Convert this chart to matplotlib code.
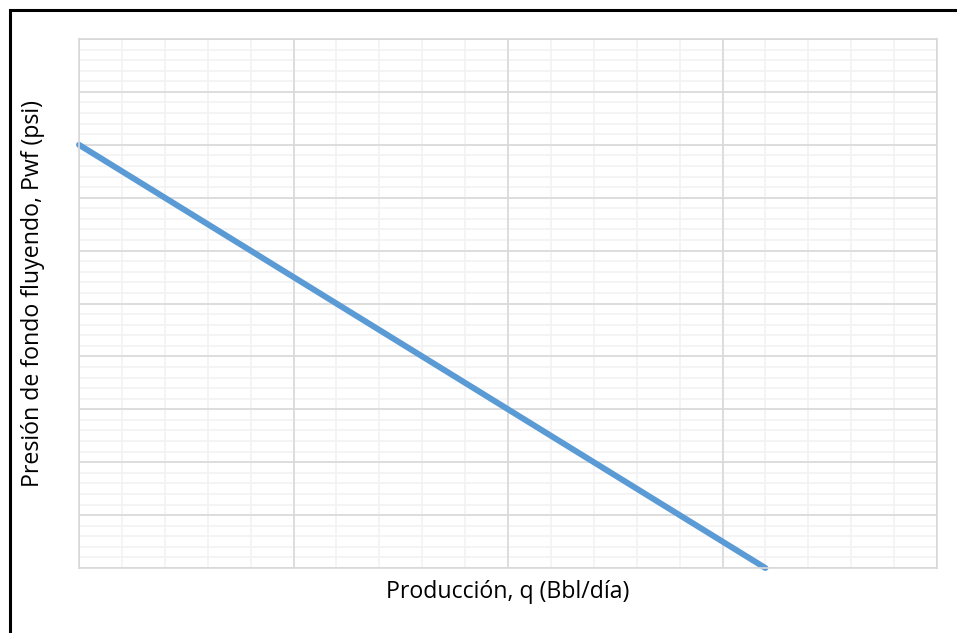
import matplotlib
matplotlib.use("Agg")
import matplotlib.pyplot as plt
from matplotlib.patches import Rectangle
from matplotlib.ticker import MultipleLocator, NullLocator

q = [0, 3200]
pwf = [800, 0]
x_label = "Producción, q (Bbl/día)"
y_label = "Presión de fondo fluyendo, Pwf (psi)"

W, H = 957, 633
fig = plt.figure(figsize=(W / 100, H / 100), dpi=100)
fig.patch.set_facecolor("white")

# outer black border (extends past right/bottom edges)
fig.patches.append(Rectangle((10 / W, -0.05), 1.1, 1 - 10 / H + 0.05,
                             transform=fig.transFigure, fill=False,
                             edgecolor="black", linewidth=2.2))

pos = [79 / W, (H - 568) / H, (937 - 79) / W, (568 - 39) / H]

# background axes: minor grid
axb = fig.add_axes(pos, zorder=0)
axb.set_xlim(0, 4000)
axb.set_ylim(0, 1000)
axb.xaxis.set_major_locator(MultipleLocator(200))
axb.yaxis.set_major_locator(MultipleLocator(20))
axb.grid(which="major", color="#F2F2F2", linewidth=1.2)
axb.tick_params(length=0, labelbottom=False, labelleft=False)
for s in axb.spines.values():
    s.set_visible(False)

# main axes: major grid + line
ax = fig.add_axes(pos, zorder=1)
ax.patch.set_alpha(0)
ax.set_xlim(0, 4000)
ax.set_ylim(0, 1000)
ax.xaxis.set_major_locator(MultipleLocator(1000))
ax.yaxis.set_major_locator(MultipleLocator(100))
ax.grid(which="major", color="#D9D9D9", linewidth=1.2)
ax.set_axisbelow(True)
ax.tick_params(which="both", length=0, labelbottom=False, labelleft=False)
for s in ax.spines.values():
    s.set_color("#D9D9D9")
    s.set_linewidth(1.2)

ax.plot(q, pwf, color="#5B9BD5", linewidth=4.3, solid_capstyle="round", clip_on=False)

fig.text(508 / W, 1 - 592 / H, x_label, ha="center", va="center",
         fontsize=16.7, family="Open Sans", color="#000000")
fig.text(33 / W, 1 - 293 / H, y_label, ha="center", va="center", rotation=90,
         fontsize=16.7, family="Open Sans", color="#000000")

fig.savefig("out.png", dpi=100)
